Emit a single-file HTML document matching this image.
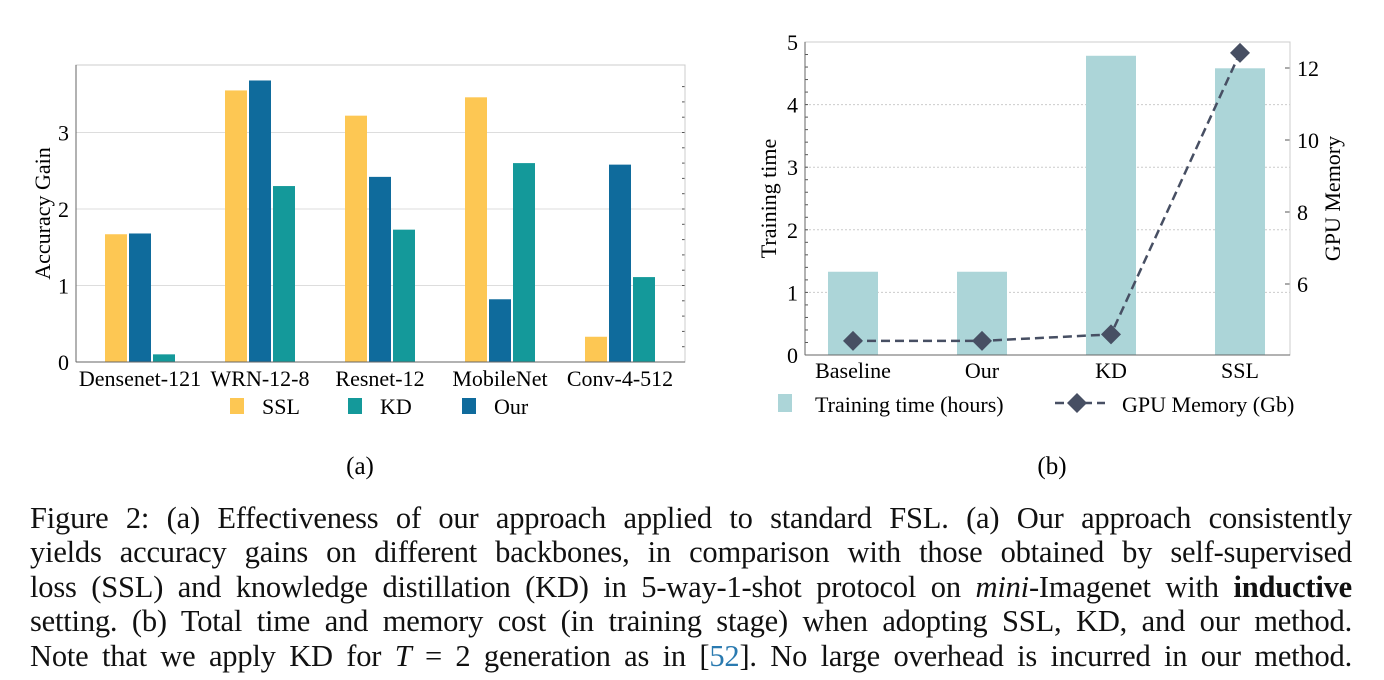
<!DOCTYPE html>
<html><head><meta charset="utf-8"><style>
body{margin:0;width:1384px;height:680px;background:#fff;overflow:hidden;position:relative;font-family:"Liberation Serif",serif}
svg{position:absolute;left:0;top:0}
.cap{position:absolute;left:30px;width:1322px;font-size:30.5px;line-height:34px;text-align:justify;text-align-last:justify;white-space:nowrap;color:#111;letter-spacing:-0.2px}
</style></head><body>
<svg width="1384" height="480" font-family="Liberation Serif, serif">
<g id="ga"></g>
<g id="gb"></g>
<text x="360" y="474" font-size="25" text-anchor="middle">(a)</text>
<text x="1052" y="474" font-size="25" text-anchor="middle">(b)</text>
</svg>
<div class="cap" style="top:501px">Figure 2: (a) Effectiveness of our approach applied to standard FSL. (a) Our approach consistently</div>
<div class="cap" style="top:535px">yields accuracy gains on different backbones, in comparison with those obtained by self-supervised</div>
<div class="cap" style="top:570px">loss (SSL) and knowledge distillation (KD) in 5-way-1-shot protocol on <i>mini</i>-Imagenet with <b>inductive</b></div>
<div class="cap" style="top:604px">setting. (b) Total time and memory cost (in training stage) when adopting SSL, KD, and our method.</div>
<div class="cap" style="top:639px">Note that we apply KD for <i>T</i> = 2 generation as in [<span style="color:#2a7ab0">52</span>]. No large overhead is incurred in our method.</div>
<script>
const backbones=["Densenet-121","WRN-12-8","Resnet-12","MobileNet","Conv-4-512"];
const sslGain=[1.67,3.55,3.22,3.46,0.33];
const ourGain=[1.68,3.68,2.42,0.82,2.58];
const kdGain=[0.10,2.30,1.73,2.60,1.11];
const aTicks=[0,1,2,3];
const methods=["Baseline","Our","KD","SSL"];
const trainTime=[1.33,1.33,4.78,4.58];
const gpuMem=[4.42,4.42,4.60,12.42];
const bTicksL=[0,1,2,3,4,5];
const bTicksR=[6,8,10,12];
const NS="http://www.w3.org/2000/svg";
function mk(p,t,a,txt){const e=document.createElementNS(NS,t);for(const k in a)e.setAttribute(k,a[k]);if(txt!==undefined)e.textContent=txt;p.appendChild(e);return e;}
const FS=22;
// chart a
const ga=document.getElementById('ga');
const aL=76,aR=685,aT=65,aB=362;
const ay=v=>aB-v*76.5;
const ax=i=>aL+64+i*120;
aTicks.forEach(t=>{if(t>0){const g=mk(ga,'line',{x1:aL,x2:aR,y1:ay(t),y2:ay(t),stroke:'#ddd','stroke-width':1});}
 const l=mk(ga,'text',{x:aL-7,y:ay(t)+8,'font-size':FS,'text-anchor':'end'},t);});
for(let v=0.2;v<3.8;v+=0.2){mk(ga,'line',{x1:aR,x2:aR-3,y1:ay(v),y2:ay(v),stroke:'#555'});}
const seriesA=[[sslGain,'#fdc753','bar-ssl'],[ourGain,'#0f6b9c','bar-our'],[kdGain,'#14999a','bar-kd']];
backbones.forEach((b,i)=>{seriesA.forEach((s,j)=>{const v=s[0][i];const r=mk(ga,'rect',{x:ax(i)-35+j*24,y:ay(v),width:22,height:v*76.5,fill:s[1]});});
 const l=mk(ga,'text',{x:ax(i),y:aB+24,'font-size':FS,'text-anchor':'middle'},b);});
const fa=mk(ga,'rect',{x:aL,y:aT,width:aR-aL,height:aB-aT,fill:'none',stroke:'#ccc'});
mk(ga,'line',{x1:aL,x2:aL,y1:aT,y2:aB,stroke:'#666'});mk(ga,'line',{x1:aL,x2:aR,y1:aB,y2:aB,stroke:'#666'});
const yt=mk(ga,'text',{x:0,y:0,'font-size':FS,'text-anchor':'middle',transform:`translate(50,${(aT+aB)/2}) rotate(-90)`},'Accuracy Gain');
[['SSL','#fdc753',230],['KD','#14999a',348],['Our','#0f6b9c',462]].forEach(e=>{const g=mk(ga,'g',{});mk(g,'rect',{x:e[2],y:398,width:14,height:16,fill:e[1]});mk(g,'text',{x:e[2]+32,y:414,'font-size':FS},e[0]);});
// chart b
const gb=document.getElementById('gb');
const bL=805,bR=1290,bT=42,bB=355;
const byL=v=>bB-v*62.6;
const byR=v=>68+(12-v)*36;
const bx=i=>853+i*129;
bTicksL.forEach(t=>{if(t>0){const g=mk(gb,'line',{x1:bL,x2:bR,y1:byL(t),y2:byL(t),stroke:'#ccc','stroke-dasharray':'2,2'});}
 const l=mk(gb,'text',{x:bL-7,y:byL(t)+8,'font-size':FS,'text-anchor':'end'},t);});
for(let v=0.2;v<5;v+=0.2)mk(gb,'line',{x1:bL,x2:bL+3,y1:byL(v),y2:byL(v),stroke:'#555'});
bTicksR.forEach(t=>{mk(gb,'line',{x1:bR,x2:bR-5,y1:byR(t),y2:byR(t),stroke:'#555'});const l=mk(gb,'text',{x:bR+7,y:byR(t)+8,'font-size':FS},t);});
methods.forEach((m,i)=>{const r=mk(gb,'rect',{x:bx(i)-25,y:byL(trainTime[i]),width:50,height:trainTime[i]*62.6,fill:'#acd5d8'});
 const l=mk(gb,'text',{x:bx(i),y:bB+23,'font-size':FS,'text-anchor':'middle'},m);});
const pl=mk(gb,'polyline',{points:methods.map((m,i)=>bx(i)+','+byR(gpuMem[i])).join(' '),fill:'none',stroke:'#474f63','stroke-width':2.5,'stroke-dasharray':'9,5'});
methods.forEach((m,i)=>{const x=bx(i),y=byR(gpuMem[i]);const d=mk(gb,'polygon',{points:`${x},${y-10} ${x+10},${y} ${x},${y+10} ${x-10},${y}`,fill:'#474f63'});});
const fb=mk(gb,'rect',{x:bL,y:bT,width:bR-bL,height:bB-bT,fill:'none',stroke:'#ccc'});
mk(gb,'line',{x1:bL,x2:bL,y1:bT,y2:bB,stroke:'#666'});mk(gb,'line',{x1:bL,x2:bR,y1:bB,y2:bB,stroke:'#666'});
const y1=mk(gb,'text',{x:0,y:0,'font-size':FS,'text-anchor':'middle',transform:`translate(776,${(bT+bB)/2}) rotate(-90)`},'Training time');
const y2=mk(gb,'text',{x:0,y:0,'font-size':FS,'text-anchor':'middle',transform:`translate(1340,${(bT+bB)/2}) rotate(-90)`},'GPU Memory');
const l1=mk(gb,'g',{});
mk(l1,'rect',{x:778,y:394,width:14,height:18,fill:'#acd5d8'});mk(l1,'text',{x:815,y:412,'font-size':FS},'Training time (hours)');
const l2=mk(gb,'g',{});
mk(l2,'line',{x1:1055,x2:1105,y1:403,y2:403,stroke:'#474f63','stroke-width':2.5,'stroke-dasharray':'9,5'});mk(l2,'polygon',{points:'1077,393 1087,403 1077,413 1067,403',fill:'#474f63'});mk(l2,'text',{x:1122,y:412,'font-size':FS},'GPU Memory (Gb)');
</script>
</body></html>
